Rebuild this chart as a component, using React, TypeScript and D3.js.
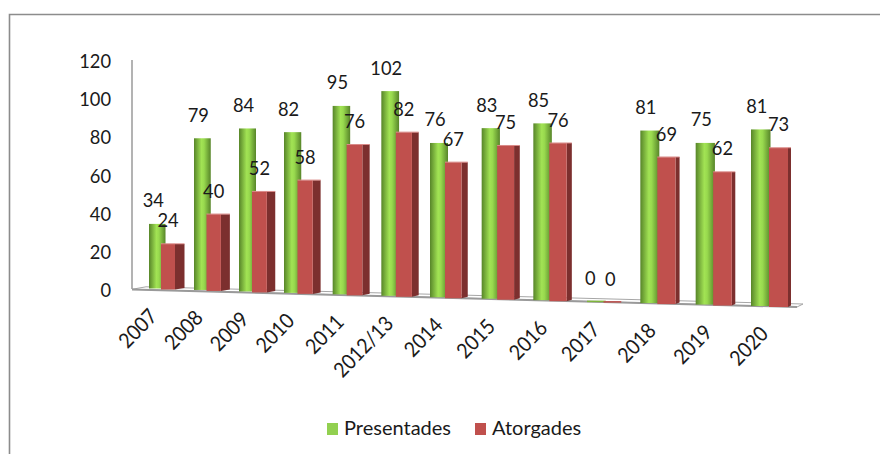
import React from "react";
import * as d3 from "d3";

const categories = ["2007","2008","2009","2010","2011","2012/13","2014","2015","2016","2017","2018","2019","2020"];
const presentades = [34,79,84,82,95,102,76,83,85,0,81,75,81];
const atorgades = [24,40,52,58,76,82,67,75,76,0,69,62,73];
const yTicks = [0,20,40,60,80,100,120];
const legendItems = [
  { label: "Presentades", color: "#92d050", x: 327 },
  { label: "Atorgades", color: "#c0504d", x: 475 },
];

const FONT = "Lato, Carlito, sans-serif";
const n = categories.length - 1;

// perspective: category index -> left of the green bar
const xLeft = d3.scaleLinear().domain([0, 3, 6, 9, 12]).range([149, 284, 430, 585, 751]);
const greenW = d3.scaleLinear().domain([0, n]).range([16.5, 19.5]);
const redW = d3.scaleLinear().domain([0, n]).range([14, 19]);
const sideW = d3.scaleLinear().domain([0, n]).range([9.5, 3]);
const redOffset = d3.scaleLinear().domain([0, n]).range([12, 18]);
const baseY = d3.scaleLinear().domain([0, n]).range([288.5, 306]);
const unit = d3.scaleLinear().domain([0, 3, 6, 12]).range([1.9, 1.96, 2.03, 2.18]);
const axisY = d3.scaleLinear().domain([0, 120]).range([289, 60]);
const tickDx = d3.scaleLinear().domain([0, n]).range([9.5, 18.5]);
const tickDy = d3.scaleLinear().domain([0, n]).range([29, 29]);

// Calibri-like narrow figures: Lato squeezed to Calibri's advance widths
const numLen = (s: string, size: number) => {
  const digits = s.replace(/[^0-9]/g, "").length;
  return (digits * 0.53 + (s.length - digits) * 0.39) * size;
};

function Num({ s, size = 20, ...rest }: any) {
  return (
    <text fontSize={size} fill="#1a1a1a" textLength={numLen(s, size)} lengthAdjust="spacingAndGlyphs" {...rest}>{s}</text>
  );
}

export default function App() {
  return (
    <svg width={880} height={454} style={{ position: "absolute", left: 0, top: 0, background: "#fff" }} fontFamily={FONT}>
      <defs>
        <linearGradient id="cyl" x1="0" x2="1" y1="0" y2="0">
          <stop offset="0" stopColor="#578529" />
          <stop offset="0.45" stopColor="#a2e354" />
          <stop offset="0.6" stopColor="#98d94e" />
          <stop offset="1" stopColor="#578529" />
        </linearGradient>
      </defs>
      <path d="M9.5 454V14.5H880" fill="none" stroke="#8c8c8c" strokeWidth={1.6} />

      {/* floor */}
      <polygon points="132,289.3 797,307 803,304 146,286.8" fill="#fff" stroke="#a6a6a6" strokeWidth={1} />
      <line x1={132} y1={289.5} x2={797} y2={307} stroke="#9a9a9a" strokeWidth={2} />
      <line x1={132} y1={axisY(120)} x2={132} y2={axisY(0)} stroke="#a0a0a0" strokeWidth={1.6} />

      {yTicks.map((t) => (
        <Num key={t} s={String(t)} x={111} y={axisY(t) + 8} textAnchor="end" />
      ))}

      {categories.map((c, i) => {
        const gx = xLeft(i);
        const gw = greenW(i);
        const rx = gx + redOffset(i);
        const rw = redW(i);
        const sw = sideW(i);
        const b = baseY(i);
        const k = unit(i);
        const gh = presentades[i] * k;
        const rh = atorgades[i] * k;
        const rb = b + 1;
        const gt = b - gh;
        const rt = rb - rh;
        return (
          <g key={c}>
            {gh > 0 ? (
              <rect x={gx} y={gt} width={gw} height={gh} fill="url(#cyl)" />
            ) : (
              <rect x={gx + 2} y={b - 1} width={gw} height={1.5} fill="#7fb53c" />
            )}
            {rh > 0 ? (
              <g>
                <polygon
                  points={`${rx + rw},${rt} ${rx + rw + sw},${rt} ${rx + rw + sw},${rb - 1.5} ${rx + rw},${rb}`}
                  fill="#7c2f2e"
                />
                <rect x={rx} y={rt} width={rw} height={rh} fill="#c0504d" />
                <rect x={rx} y={rt - 0.6} width={rw + sw} height={1} fill="#d98a88" />
              </g>
            ) : (
              <rect x={rx + 2} y={rb - 1.5} width={rw} height={1.5} fill="#c0504d" />
            )}
            <Num s={String(presentades[i])} x={gx + gw / 2 - 4} y={gt - 16.5} textAnchor="middle" />
            <Num s={String(atorgades[i])} x={rx + rw / 2} y={rt - 16.5} textAnchor="middle" />
            <Num s={c} size={21} transform={`translate(${gx + tickDx(i)},${b + tickDy(i)}) rotate(-46)`} textAnchor="end" />
          </g>
        );
      })}

      {legendItems.map((l) => (
        <g key={l.label}>
          <rect x={l.x} y={423} width={11} height={12} fill={l.color} />
          <text x={l.x + 17} y={435} fontSize={20} fill="#1a1a1a">{l.label}</text>
        </g>
      ))}
    </svg>
  );
}
